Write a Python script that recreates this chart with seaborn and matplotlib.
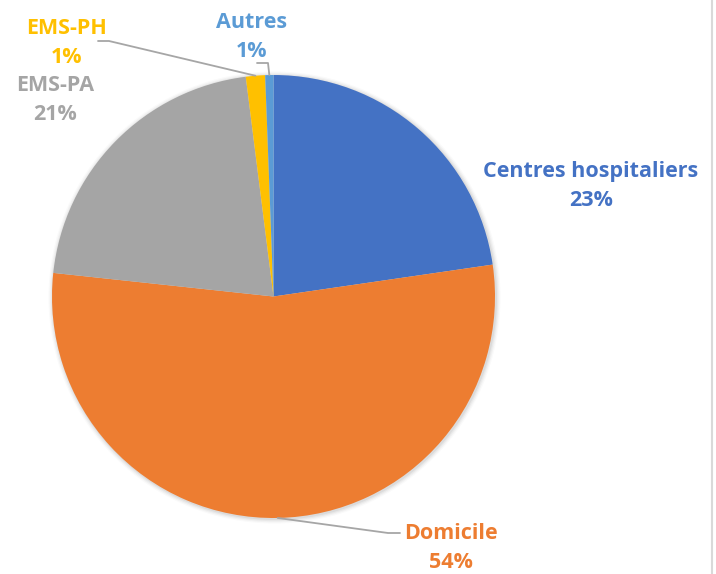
import matplotlib
matplotlib.use("Agg")
import matplotlib.pyplot as plt
from matplotlib.lines import Line2D
import numpy as np
import seaborn as sns

categories = ["Centres hospitaliers", "Domicile", "EMS-PA", "EMS-PH", "Autres"]
values = [22.7, 54.0, 21.3, 1.4, 0.6]
colors = ["#4472C4", "#ED7D31", "#A5A5A5", "#FFC000", "#5B9BD5"]

sns.set_theme(style="white")
plt.rcParams["font.family"] = ["Open Sans", "DejaVu Sans"]

W, H = 716, 574
fig = plt.figure(figsize=(W / 100, H / 100), dpi=100)
fig.patch.set_facecolor("white")
ax = fig.add_axes([0, 0, 1, 1])

cx, cy, r = 273.5, H - 296.5, 221.5

# soft shadow
for i, a in enumerate([0.05, 0.04, 0.03, 0.02]):
    ax.add_patch(plt.Circle((cx + 1, cy - 1), r + 1 + i * 1.2, color="black", alpha=a, lw=0, zorder=0))

wedges, _ = ax.pie(values, colors=sns.color_palette(colors), startangle=90, counterclock=False,
                   center=(cx, cy), radius=r, frame=True,
                   wedgeprops=dict(linewidth=0))
ax.set_xlim(0, W)
ax.set_ylim(0, H)
ax.set_aspect("equal")
ax.axis("off")

def edge_point(w):
    ang = np.deg2rad((w.theta1 + w.theta2) / 2)
    return cx + r * np.cos(ang), cy + r * np.sin(ang)

# label positions (pixel coords from top-left) and leader-line elbow points
label_pos = {
    "Centres hospitaliers": (591, 186),
    "Domicile": (451, 548),
    "EMS-PA": (55, 100),
    "EMS-PH": (67, 43),
    "Autres": (252, 37),
}
leaders = {
    "Domicile": [(400, 533), (388, 533)],
    "EMS-PH": [(98, 41), (109, 41)],
    "Autres": [(257, 63), (268, 63)],
}
line_color = "#A6A6A6"
for w, cat, col, v in zip(wedges, categories, colors, values):
    x, y = label_pos[cat]
    ax.text(x, H - y, f"{cat}\n{v:.0f}%", color=col, fontsize=15.5, fontweight="bold",
            ha="center", va="center", linespacing=1.5)
    if cat in leaders:
        pts = [(px, H - py) for px, py in leaders[cat]] + [edge_point(w)]
        ax.plot([p[0] for p in pts], [p[1] for p in pts], color=line_color, lw=1.3, zorder=3)

fig.add_artist(Line2D([712 / W, 712 / W], [0, 1], color="#D9D9D9", lw=1.5))

fig.savefig("out.png", dpi=100, facecolor="white")
